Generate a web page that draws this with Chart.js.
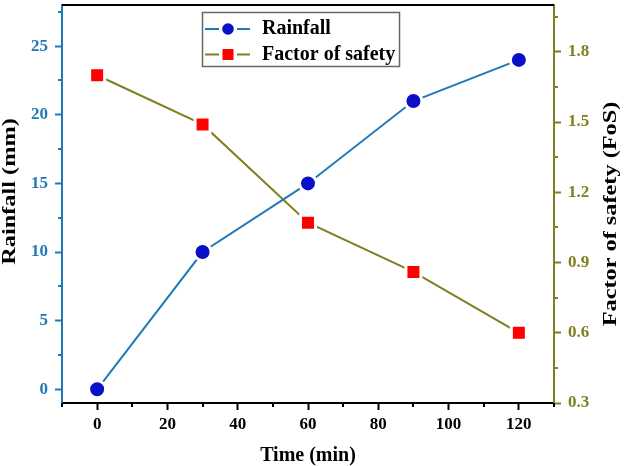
<!DOCTYPE html>
<html><head><meta charset="utf-8">
<script src="https://cdn.jsdelivr.net/npm/chart.js@4/dist/chart.umd.min.js"></script>
<style>html,body{margin:0;padding:0;background:#fff;}</style>
</head><body>
<canvas id="c" width="625" height="466"></canvas>
<script>
const timeMin = [0, 30, 60, 90, 120];
const rainfall = [0, 10, 15, 21, 24];
const factorOfSafety = [1.70, 1.49, 1.07, 0.86, 0.60];
const xTicks = [0, 20, 40, 60, 80, 100, 120];
const xMinorTicks = [-10, 10, 30, 50, 70, 90, 110, 130];
const rainTicks = [0, 5, 10, 15, 20, 25];
const rainMinorTicks = [2.5, 7.5, 12.5, 17.5, 22.5, 27.5];
const fosTicks = [0.3, 0.6, 0.9, 1.2, 1.5, 1.8];
const fosMinorTicks = [0.45, 0.75, 1.05, 1.35, 1.65, 1.95];
const seriesNames = ['Rainfall', 'Factor of safety'];
const xTitle = 'Time (min)';
const yTitle = 'Rainfall (mm)';
const y1Title = 'Factor of safety (FoS)';

const FONT = '"Liberation Serif", "Times New Roman", serif';
const BLUE_AXIS = '#1f7ab5';
const OLIVE = '#7f7f1f';

function zeroPad(s) { s.paddingTop = 0; s.paddingBottom = 0; s.paddingLeft = 0; s.paddingRight = 0; }

const minorTickPlugin = {
  id: 'minorTicks',
  afterDraw(chart) {
    const ctx = chart.ctx;
    const s = chart.scales;
    ctx.save();
    ctx.lineWidth = 2;
    ctx.strokeStyle = '#000';
    xMinorTicks.forEach(v => {
      const px = Math.round(s.x.getPixelForValue(v));
      ctx.beginPath(); ctx.moveTo(px, s.x.top); ctx.lineTo(px, s.x.top + 4); ctx.stroke();
    });
    ctx.strokeStyle = BLUE_AXIS;
    rainMinorTicks.forEach(v => {
      const py = Math.round(s.y.getPixelForValue(v));
      ctx.beginPath(); ctx.moveTo(s.y.right, py); ctx.lineTo(s.y.right - 4, py); ctx.stroke();
    });
    ctx.strokeStyle = OLIVE;
    fosMinorTicks.forEach(v => {
      const py = Math.round(s.y1.getPixelForValue(v));
      ctx.beginPath(); ctx.moveTo(s.y1.left, py); ctx.lineTo(s.y1.left + 4, py); ctx.stroke();
    });
    const ca = chart.chartArea;
    ctx.strokeStyle = '#000';
    ctx.beginPath(); ctx.moveTo(ca.left, ca.top); ctx.lineTo(ca.right, ca.top); ctx.stroke();
    ctx.restore();
  }
};

function drawVerticalTitle(ctx, text, x, y) {
  ctx.save();
  ctx.translate(x, y);
  ctx.rotate(-Math.PI / 2);
  ctx.scale(1.35, 1);
  ctx.font = 'bold 18px ' + FONT;
  ctx.fillStyle = '#000';
  ctx.textAlign = 'center';
  ctx.textBaseline = 'alphabetic';
  ctx.fillText(text, 0, 0);
  ctx.restore();
}

const titlesPlugin = {
  id: 'sideTitles',
  afterDraw(chart) {
    const ctx = chart.ctx;
    drawVerticalTitle(ctx, yTitle, 15, 191.5);
    drawVerticalTitle(ctx, y1Title, 616, 214);
  }
};

const legendPlugin = {
  id: 'boxLegend',
  afterDraw(chart) {
    const ctx = chart.ctx;
    ctx.save();
    ctx.fillStyle = '#fff';
    ctx.fillRect(202, 12, 198, 55);
    ctx.strokeStyle = '#666';
    ctx.lineWidth = 1.5;
    ctx.strokeRect(202.5, 12.5, 197, 54);
    const ys = [29, 54.5];
    chart.data.datasets.forEach((ds, i) => {
      const y = ys[i];
      ctx.strokeStyle = ds.borderColor; ctx.lineWidth = 2;
      ctx.beginPath(); ctx.moveTo(205, y); ctx.lineTo(250, y); ctx.stroke();
      ctx.fillStyle = '#fff';
      ctx.fillRect(219, y - 6, 18, 12);
      ctx.fillStyle = ds.pointBackgroundColor;
      if (ds.pointStyle === 'circle') {
        ctx.beginPath(); ctx.arc(228, y, 5.8, 0, Math.PI * 2); ctx.fill();
      } else {
        ctx.fillRect(222.5, y - 5.5, 11, 11);
      }
      ctx.fillStyle = '#000';
      ctx.font = 'bold 20px ' + FONT;
      ctx.textAlign = 'left';
      ctx.textBaseline = 'alphabetic';
      ctx.fillText(ds.label, 262, y + 5);
    });
    ctx.restore();
  }
};

new Chart(document.getElementById('c'), {
  type: 'line',
  data: {
    datasets: [
      {
        label: seriesNames[0],
        data: timeMin.map((t, i) => ({ x: t, y: rainfall[i] })),
        yAxisID: 'y',
        borderColor: '#1f7ab5',
        borderWidth: 2,
        pointStyle: 'circle',
        pointRadius: 8.5,
        pointBackgroundColor: '#0a10c8',
        pointBorderColor: '#ffffff',
        pointBorderWidth: 3,
        tension: 0
      },
      {
        label: seriesNames[1],
        data: timeMin.map((t, i) => ({ x: t, y: factorOfSafety[i] })),
        yAxisID: 'y1',
        borderColor: OLIVE,
        borderWidth: 2,
        pointStyle: 'rect',
        pointRadius: 10.6,
        pointBackgroundColor: '#ff0000',
        pointBorderColor: '#ffffff',
        pointBorderWidth: 3,
        tension: 0
      }
    ]
  },
  options: {
    responsive: false,
    animation: false,
    events: [],
    layout: { autoPadding: false, padding: { top: 5, left: 0, right: 0, bottom: 0 } },
    plugins: { legend: { display: false }, tooltip: { enabled: false } },
    scales: {
      x: {
        type: 'linear', position: 'bottom', min: -10, max: 130,
        afterBuildTicks: s => { s.ticks = xTicks.map(v => ({ value: v })); },
        afterFit: s => { s.height = 63; zeroPad(s); },
        grid: { drawOnChartArea: false, tickLength: 7, tickWidth: 2, tickColor: '#000' },
        border: { display: true, color: '#000', width: 2 },
        ticks: { color: '#000', font: { family: FONT, size: 17, weight: 'bold' }, padding: 4, maxRotation: 0, callback: v => String(v) },
        title: { display: true, text: xTitle, color: '#000', font: { family: FONT, size: 20, weight: 'bold', lineHeight: 1.0 }, padding: { top: 0, bottom: 0 } }
      },
      y: {
        type: 'linear', position: 'left', min: -1, max: 28,
        afterBuildTicks: s => { s.ticks = rainTicks.map(v => ({ value: v })); },
        afterFit: s => { s.width = 62; zeroPad(s); },
        grid: { drawOnChartArea: false, tickLength: 7, tickWidth: 2, tickColor: BLUE_AXIS },
        border: { display: true, color: BLUE_AXIS, width: 2 },
        ticks: { color: BLUE_AXIS, font: { family: FONT, size: 17, weight: 'bold' }, padding: 7, callback: v => String(v) }
      },
      y1: {
        type: 'linear', position: 'right', min: 0.3, max: 2.0,
        afterBuildTicks: s => { s.ticks = fosTicks.map(v => ({ value: v })); },
        afterFit: s => { s.width = 71; zeroPad(s); },
        grid: { drawOnChartArea: false, tickLength: 7, tickWidth: 2, tickColor: OLIVE },
        border: { display: true, color: OLIVE, width: 2 },
        ticks: { color: OLIVE, font: { family: FONT, size: 17, weight: 'bold' }, padding: 7, callback: v => Number(v).toFixed(1) }
      }
    }
  },
  plugins: [minorTickPlugin, titlesPlugin, legendPlugin]
});
</script>
</body></html>
